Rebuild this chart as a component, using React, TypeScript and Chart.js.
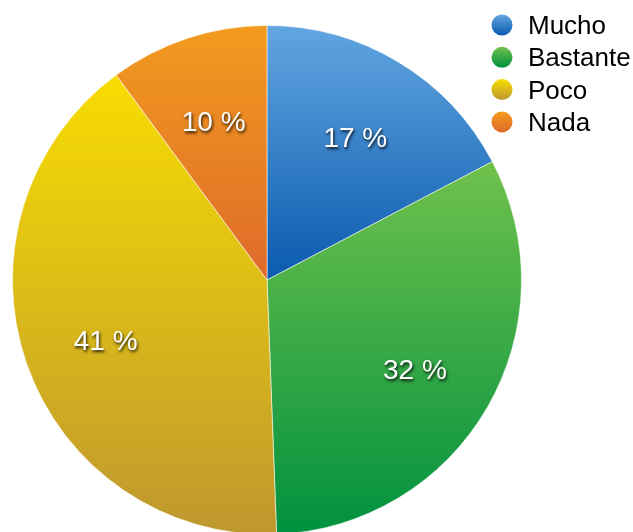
import React, { useEffect, useRef } from "react";
import { Chart, registerables } from "chart.js";

Chart.register(...registerables);

const categories = ["Mucho", "Bastante", "Poco", "Nada"];
const values = [17.3, 32.1, 40.5, 10.1];
const valueLabels = ["17 %", "32 %", "41 %", "10 %"];
const topColors = ["#62a6e1", "#70c14c", "#f7dd02", "#f29b1e"];
const bottomColors = ["#0b5aae", "#00913f", "#be972f", "#df6a2a"];

const FONT = "'Liberation Sans', Arial, Helvetica, sans-serif";

function sliceExtent(chart: any, index: number) {
  const area = chart.chartArea;
  const cx = (area.left + area.right) / 2;
  const cy = (area.top + area.bottom) / 2;
  const r = Math.min(area.right - area.left, area.bottom - area.top) / 2;
  const total = values.reduce((a, b) => a + b, 0);
  let start = 0;
  for (let i = 0; i < index; i++) start += values[i];
  const a0 = (start / total) * 360;
  const a1 = ((start + values[index]) / total) * 360;
  const ys = [cy];
  [a0, a1].forEach((a) => ys.push(cy - r * Math.cos((a * Math.PI) / 180)));
  if (a0 <= 0.001) ys.push(cy - r);
  if (a0 <= 180 && a1 >= 180) ys.push(cy + r);
  return { cx, cy, r, ymin: Math.min(...ys), ymax: Math.max(...ys), mid: (a0 + a1) / 2 };
}

const overlayPlugin = {
  id: "overlay",
  afterDraw(chart: any) {
    const ctx = chart.ctx;
    ctx.save();
    // slice labels
    ctx.font = `28px ${FONT}`;
    ctx.textAlign = "center";
    ctx.textBaseline = "middle";
    values.forEach((_, i) => {
      const e = sliceExtent(chart, i);
      const rad = (e.mid * Math.PI) / 180;
      const lr = e.r * 0.67;
      const x = e.cx + lr * Math.sin(rad);
      const y = e.cy - lr * Math.cos(rad) + 6;
      ctx.save();
      ctx.shadowColor = "rgba(0,0,0,0.85)";
      ctx.shadowBlur = 3;
      ctx.shadowOffsetX = 1;
      ctx.shadowOffsetY = 2;
      ctx.fillStyle = "#ffffff";
      ctx.fillText(valueLabels[i], x, y);
      ctx.restore();
    });
    // legend
    const lx = 502;
    const ly0 = 25;
    const step = 32.3;
    ctx.font = `26px ${FONT}`;
    ctx.textAlign = "left";
    ctx.textBaseline = "middle";
    categories.forEach((c, i) => {
      const y = ly0 + i * step;
      const g = ctx.createLinearGradient(0, y - 10, 0, y + 10);
      g.addColorStop(0, topColors[i]);
      g.addColorStop(1, bottomColors[i]);
      ctx.beginPath();
      ctx.arc(lx, y, 10.5, 0, Math.PI * 2);
      ctx.fillStyle = g;
      ctx.fill();
      ctx.fillStyle = "#000000";
      ctx.fillText(c, 528, y + 2);
    });
    ctx.restore();
  },
};

export default function App() {
  const ref = useRef<HTMLCanvasElement | null>(null);
  useEffect(() => {
    document.body.style.margin = "0";
    if (!ref.current) return;
    const chart = new Chart(ref.current, {
      type: "pie",
      data: {
        labels: categories,
        datasets: [
          {
            data: values,
            backgroundColor: (c: any) => {
              const chart = c.chart;
              const i = c.dataIndex;
              if (!chart.chartArea || i === undefined) return topColors[i ?? 0];
              const e = sliceExtent(chart, i);
              const g = chart.ctx.createLinearGradient(0, e.ymin, 0, e.ymax);
              g.addColorStop(0, topColors[i]);
              g.addColorStop(1, bottomColors[i]);
              return g;
            },
            borderColor: "rgba(255,255,255,0.55)",
            borderWidth: 1,
          },
        ],
      },
      options: {
        responsive: false,
        animation: false,
        layout: { padding: { left: 12, top: 25, right: 111, bottom: 27 } },
        plugins: {
          legend: { display: false },
          tooltip: { enabled: false },
        },
      },
      plugins: [overlayPlugin],
    });
    return () => chart.destroy();
  }, []);
  return (
    <div style={{ position: "absolute", left: 0, top: 0, width: 633, height: 532, overflow: "hidden", background: "#fff" }}>
      <canvas ref={ref} width={633} height={562} style={{ display: "block", width: 633, height: 562 }} />
    </div>
  );
}
